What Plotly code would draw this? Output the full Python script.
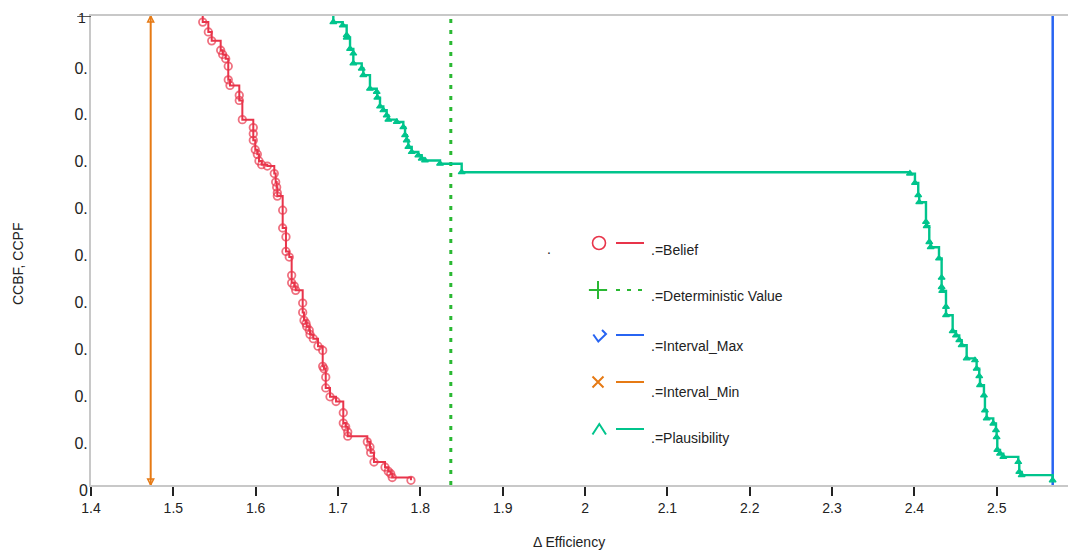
import plotly.graph_objects as go

# ---------------- data ----------------
belief_x = [1.5357, 1.5357, 1.5425, 1.5466, 1.5575, 1.5599, 1.5636, 1.5667, 1.5667, 1.5688,
            1.5801, 1.5801, 1.5838, 1.5971, 1.5971, 1.5971, 1.5995, 1.6020, 1.6040, 1.6073,
            1.6141, 1.6226, 1.6243, 1.6255, 1.6263, 1.6263, 1.6328, 1.6328, 1.6368, 1.6368,
            1.6408, 1.6437, 1.6437, 1.6469, 1.6486, 1.6571, 1.6571, 1.6587, 1.6611, 1.6620,
            1.6651, 1.6660, 1.6700, 1.6757, 1.6814, 1.6814, 1.6830, 1.6851, 1.6851, 1.6903,
            1.6976, 1.7064, 1.7064, 1.7093, 1.7118, 1.7118, 1.7356, 1.7388, 1.7397, 1.7437,
            1.7571, 1.7611, 1.7640, 1.7659, 1.7886]
belief_y = [1.000, 0.987, 0.966, 0.947, 0.927, 0.918, 0.909, 0.893, 0.864, 0.852,
            0.831, 0.820, 0.779, 0.762, 0.749, 0.735, 0.715, 0.705, 0.691, 0.683,
            0.680, 0.664, 0.646, 0.635, 0.623, 0.616, 0.586, 0.548, 0.529, 0.498,
            0.486, 0.447, 0.431, 0.424, 0.415, 0.388, 0.368, 0.351, 0.345, 0.338,
            0.330, 0.321, 0.312, 0.296, 0.287, 0.253, 0.248, 0.230, 0.207, 0.188,
            0.178, 0.154, 0.132, 0.124, 0.113, 0.104, 0.092, 0.081, 0.069, 0.049,
            0.038, 0.029, 0.024, 0.016, 0.010]

plaus_x = [1.6943, 1.6943, 1.7057, 1.7105, 1.7105, 1.7146, 1.7186, 1.7186, 1.7288, 1.7307,
           1.7388, 1.7470, 1.7477, 1.7510, 1.7550, 1.7591, 1.7611, 1.7713, 1.7793, 1.7814,
           1.7834, 1.7854, 1.7895, 1.7975, 1.8016, 1.8056, 1.8239, 1.8502, 2.3946, 2.4007,
           2.4047, 2.4059, 2.4141, 2.4149, 2.4181, 2.4198, 2.4299, 2.4331, 2.4331, 2.4338,
           2.4384, 2.4384, 2.4465, 2.4505, 2.4545, 2.4574, 2.4635, 2.4736, 2.4756, 2.4788,
           2.4797, 2.4845, 2.4857, 2.4878, 2.4958, 2.4991, 2.4999, 2.5007, 2.5040, 2.5080,
           2.5262, 2.5274, 2.5303, 2.5679]
plaus_y = [1.000, 0.987, 0.980, 0.959, 0.954, 0.930, 0.920, 0.899, 0.888, 0.874,
           0.845, 0.838, 0.826, 0.807, 0.799, 0.788, 0.779, 0.774, 0.763, 0.746,
           0.735, 0.721, 0.710, 0.703, 0.696, 0.692, 0.685, 0.667, 0.664, 0.644,
           0.618, 0.603, 0.561, 0.552, 0.518, 0.507, 0.483, 0.442, 0.422, 0.414,
           0.380, 0.362, 0.328, 0.319, 0.309, 0.298, 0.270, 0.266, 0.248, 0.232,
           0.213, 0.191, 0.159, 0.142, 0.131, 0.117, 0.102, 0.075, 0.067, 0.060,
           0.049, 0.028, 0.021, 0.010]

interval_min_x = [1.4725, 1.4725]
interval_max_x = [2.568, 2.568]
deterministic_x = [1.837, 1.837]
vline_y = [0.0, 1.0]

x_ticks = [1.4, 1.5, 1.6, 1.7, 1.8, 1.9, 2.0, 2.1, 2.2, 2.3, 2.4, 2.5]
y_ticks = [0.0, 0.1, 0.2, 0.3, 0.4, 0.5, 0.6, 0.7, 0.8, 0.9]
y_tick_text = ["0", "0.", "0.", "0.", "0.", "0.", "0.", "0.", "0.", "0."]
y_top_label = "1"

legend_names = [".=Belief", ".=Deterministic Value", ".=Interval_Max", ".=Interval_Min", ".=Plausibility"]

# ---------------- styles ----------------
RED = "#e8344a"
GREEN = "#2ab833"
BLUE = "#2764f2"
ORANGE = "#e67a14"
TEAL = "#00c48c"
FONT = "Liberation Sans, Arial, sans-serif"
TXT = "#222222"

# page has an 8px body margin; plot area spans page px x 91..1076, y 16..485
PL, PR, PT, PB = 91, 1076, 16, 485


def px_paper(px, py):
    return (px - PL) / (PR - PL), (PB - py) / (PB - PT)


fig = go.Figure()

fig.add_trace(go.Scatter(x=interval_min_x, y=vline_y, mode="lines+markers",
                         line=dict(color=ORANGE, width=2),
                         marker=dict(symbol=["arrow-down-open", "arrow-up-open"], size=6,
                                     color=ORANGE, line=dict(color=ORANGE, width=1.5)),
                         cliponaxis=False, showlegend=False))
fig.add_trace(go.Scatter(x=interval_max_x, y=vline_y, mode="lines",
                         line=dict(color=BLUE, width=2.5), cliponaxis=False, showlegend=False))
fig.add_trace(go.Scatter(x=deterministic_x, y=vline_y, mode="lines",
                         line=dict(color=GREEN, width=3, dash="4px,7px"), showlegend=False))
fig.add_trace(go.Scatter(x=belief_x, y=belief_y, mode="lines+markers", line_shape="hv",
                         line=dict(color=RED, width=2),
                         marker=dict(symbol="circle-open", size=[0] + [7.5] * (len(belief_x) - 1),
                                     color=RED, line=dict(color=RED, width=1.8)),
                         cliponaxis=False, showlegend=False))
fig.add_trace(go.Scatter(x=plaus_x, y=plaus_y, mode="lines+markers", line_shape="hv",
                         line=dict(color=TEAL, width=2.4),
                         marker=dict(symbol="triangle-up", size=[0] + [6] * (len(plaus_x) - 1),
                                     color=TEAL, opacity=1, line=dict(color=TEAL, width=1.2)),
                         cliponaxis=False, showlegend=False))

# ---------------- manual legend (overlay pixel-like axes) ----------------
LX0, LX1 = 616, 644
leg_rows = [243, 290, 335, 382, 429]
leg_text_y = [250, 296, 346, 392, 438]
leg_colors = [RED, GREEN, BLUE, ORANGE, TEAL]
for i, c in enumerate(leg_colors):
    fig.add_trace(go.Scatter(x=[LX0, LX1], y=[leg_rows[i], leg_rows[i]], mode="lines",
                             line=dict(color=c, width=2, dash="4px,7px" if i == 1 else "solid"),
                             xaxis="x2", yaxis="y2", showlegend=False, hoverinfo="skip"))
fig.add_trace(go.Scatter(x=[599], y=[243], mode="markers", xaxis="x2", yaxis="y2",
                         marker=dict(symbol="circle-open", size=13, color=RED, line=dict(color=RED, width=1.6)),
                         showlegend=False, hoverinfo="skip"))
fig.add_trace(go.Scatter(x=[598], y=[290], mode="markers", xaxis="x2", yaxis="y2",
                         marker=dict(symbol="cross-thin-open", size=13, color=GREEN, line=dict(color=GREEN, width=2)),
                         showlegend=False, hoverinfo="skip"))
fig.add_trace(go.Scatter(x=[593.3, 598.3, 606.0, 602.0], y=[334.5, 341.5, 334.0, 330.0], mode="lines",
                         xaxis="x2", yaxis="y2", line=dict(color=BLUE, width=2),
                         showlegend=False, hoverinfo="skip"))
fig.add_trace(go.Scatter(x=[598], y=[382], mode="markers", xaxis="x2", yaxis="y2",
                         marker=dict(symbol="x-thin-open", size=11, color=ORANGE, line=dict(color=ORANGE, width=2)),
                         showlegend=False, hoverinfo="skip"))
fig.add_trace(go.Scatter(x=[592.5, 599.3, 606.0], y=[434.5, 424.0, 434.5], mode="lines",
                         xaxis="x2", yaxis="y2", line=dict(color=TEAL, width=2),
                         showlegend=False, hoverinfo="skip"))

annotations = []
for name, ty in zip(legend_names, leg_text_y):
    annotations.append(dict(x=649, y=ty, xref="x2", yref="y2", text=name, showarrow=False,
                            xanchor="left", yanchor="middle",
                            font=dict(family=FONT, size=14, color=TXT)))
annotations.append(dict(x=548.5, y=249, xref="x2", yref="y2", text=".", showarrow=False,
                        xanchor="center", yanchor="middle", font=dict(family=FONT, size=14, color=TXT)))
tx, ty = px_paper(569, 542)
annotations.append(dict(x=tx, y=ty, xref="paper", yref="paper", text="Δ Efficiency", showarrow=False,
                        xanchor="center", yanchor="middle", font=dict(family=FONT, size=14, color=TXT)))
tx, ty = px_paper(18, 264)
annotations.append(dict(x=tx, y=ty, xref="paper", yref="paper", text="CCBF, CCPF", showarrow=False,
                        textangle=-90, xanchor="center", yanchor="middle",
                        font=dict(family=FONT, size=14, color=TXT)))
tx, ty = px_paper(81.5, 8.5)
annotations.append(dict(x=tx, y=ty, xref="paper", yref="paper", text=y_top_label, showarrow=False,
                        xanchor="center", yanchor="top", borderpad=0,
                        font=dict(family=FONT, size=14, color=TXT)))

fig.update_layout(
    width=1068, height=547,
    margin=dict(l=PL - 8, r=0, t=PT - 8, b=555 - PB, pad=0, autoexpand=False),
    paper_bgcolor="white", plot_bgcolor="white",
    font=dict(family=FONT, size=14, color=TXT),
    xaxis=dict(range=[1.4, 2.5963], tickvals=x_ticks, showgrid=False, zeroline=False,
               showline=True, linecolor="#c8c8c8", linewidth=2, mirror=True,
               ticks="outside", ticklen=9, tickwidth=2, tickcolor=TXT, automargin=False,
               tickfont=dict(family=FONT, size=14, color=TXT)),
    yaxis=dict(range=[0, 1], tickvals=y_ticks, ticktext=y_tick_text, showgrid=False,
               zeroline=False, showline=True, linecolor="#c8c8c8", linewidth=2,
               ticks="", ticklabelshift=5, ticklabelstandoff=-2, automargin=False,
               tickfont=dict(family=FONT, size=16, color=TXT)),
    xaxis2=dict(overlaying="x", range=[PL, PR], visible=False, fixedrange=True),
    yaxis2=dict(overlaying="y", range=[PB, PT], visible=False, fixedrange=True),
    annotations=annotations,
    shapes=[dict(type="line", xref="paper", yref="y", x0=-0.014, x1=0, y0=1, y1=1,
                 line=dict(color=TXT, width=1.5))],
    showlegend=False,
)

fig.write_html("out.html")
